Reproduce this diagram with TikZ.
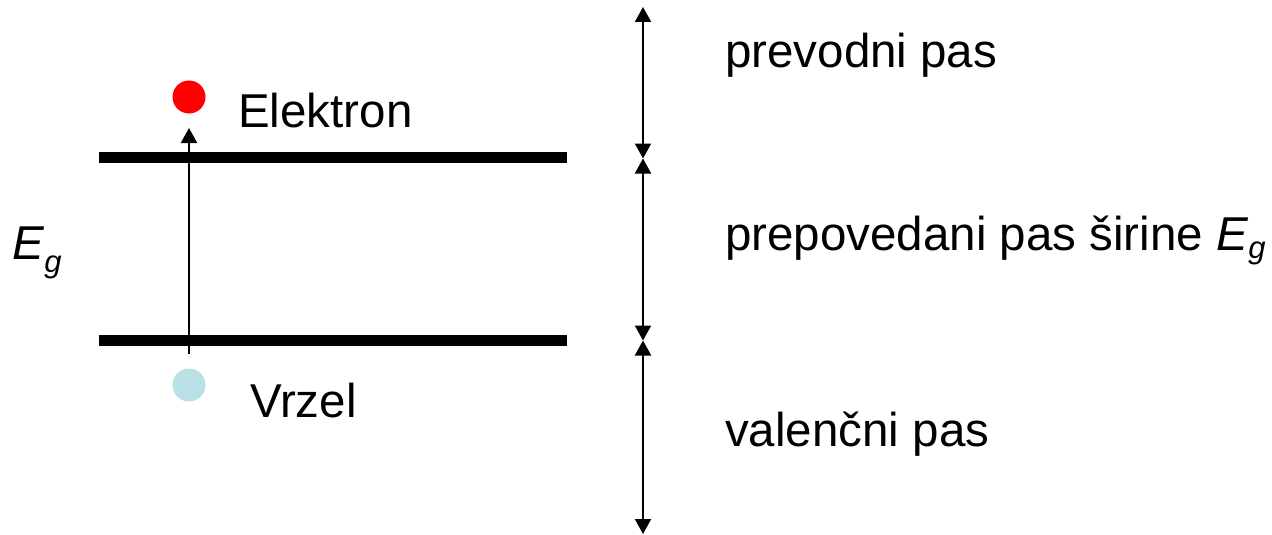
\documentclass[tikz,border=0pt]{standalone}
\usepackage{fontspec}
\setmainfont{Liberation Sans}
\usetikzlibrary{arrows.meta}
\definecolor{hole}{RGB}{185,224,228}
\definecolor{elec}{RGB}{255,0,0}
\newcommand{\Egsym}[1]{\textit{E}\raisebox{#1}{\fontsize{31}{31}\selectfont\itshape g}}
\begin{document}
\begin{tikzpicture}[x=1pt,y=-1pt,
  lbl/.style={anchor=base west,inner sep=0pt,font=\fontsize{47.5}{57}\selectfont},
  band/.style={line width=11pt},
  dot/.style={circle,inner sep=0pt,minimum size=33pt},
  tip/.style={-{Triangle[width=16pt,length=15pt]}},
  dtip/.style={{Triangle[width=16pt,length=15pt]}-{Triangle[width=16pt,length=15pt]}},
  conn/.style={line width=2pt}]
\useasboundingbox (0,0) rectangle (1272,535);
% bands
\coordinate (c1l) at (99,157.5);
\coordinate (c1r) at (567,157.5);
\coordinate (v1l) at (99,340.5);
\coordinate (v1r) at (567,340.5);
\draw[band] (c1l) -- (c1r);
\draw[band] (v1l) -- (v1r);
% particles
\node[dot,fill=elec] (el) at (189,97) {};
\node[dot,fill=hole] (ho) at (189,385) {};
\coordinate (exs) at (189,354);
\coordinate (exe) at (189,128);
\draw[conn,tip] (exs) -- (exe);
% right scale
\coordinate (r0) at (643,7);
\coordinate (r1) at (643,158.5);
\coordinate (r2) at (643,340.5);
\coordinate (r3) at (643,534);
\draw[conn,dtip] (r0) -- (r1);
\draw[conn,dtip] (r1) -- (r2);
\draw[conn,dtip] (r2) -- (r3);
% labels
\node[lbl] (tel) at (238,127) {Elektron};
\node[lbl] (tvr) at (250,417) {Vrzel};
\node[lbl] (teg) at (12,259) {\Egsym{-13pt}};
\node[lbl] (tpr) at (725,67) {prevodni pas};
\node[lbl] (tpp) at (725,250) {prepovedani pas širine \Egsym{-8pt}};
\node[lbl] (tva) at (725,446) {valenčni pas};
\end{tikzpicture}
\end{document}
